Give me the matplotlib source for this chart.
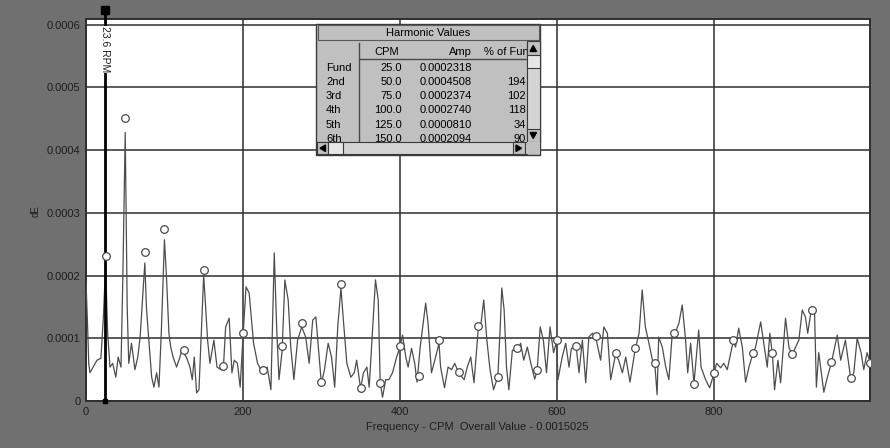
import matplotlib
matplotlib.use("Agg")
import matplotlib.pyplot as plt
from matplotlib.patches import Rectangle, Polygon

plt.rcParams['font.family'] = ['Liberation Sans', 'DejaVu Sans']

# --- spectrum (CPM vs dE) ---
spec_cpm = [0, 2, 3.5, 5, 9, 14, 19, 22, 25, 27.6, 30.6, 34, 38, 41, 44.6, 47, 50, 52.5, 54.5, 58,
            62.4, 66, 69, 72, 75, 77, 79.4, 83.7, 86.6, 90, 93, 96, 100, 102.5, 105.7, 108, 111,
            115.5, 119.7, 122.7, 125, 128, 132.5, 135.5, 138, 141, 144, 147, 150, 152.5, 155,
            158, 163, 167, 172, 175, 178, 182.5, 186, 189, 193, 196.5, 200, 204, 208, 213.6,
            218.7, 223, 225, 231, 235.7, 240, 243, 246, 250, 253.5, 257.7, 261, 265, 269.7, 275,
            280, 284.5, 289, 293, 296.5, 300, 304, 308.7, 313, 317, 321, 325, 328, 332.5, 337.6,
            342, 345, 350, 353.7, 358, 361, 365, 369, 372.5, 375, 378, 382, 386, 390.7, 396, 400,
            403.5, 407.6, 410.6, 415, 419, 422, 426, 433, 436, 440.4, 444.6, 450, 452, 457, 461.5,
            466, 470, 475, 482, 486, 490.4, 494.6, 500, 503, 507, 511, 515, 519.5, 525, 528, 530,
            533, 536, 539, 543.5, 550, 554, 558, 562.6, 567, 572, 575, 579, 583, 587, 591.5, 596,
            600, 601.6, 607, 611.5, 615.7, 618.7, 625, 628.4, 632.7, 637, 641, 645.5, 650, 656,
            660, 664.6, 668.8, 675, 679, 683.7, 688, 693.4, 700, 705, 709, 713, 717.6, 722, 725,
            728, 730, 734.6, 739, 743, 747, 750, 755.8, 760, 764.3, 767, 770.7, 775, 778, 781,
            784, 789.8, 795, 800, 803.8, 809, 813, 817.4, 825, 828, 832, 836.6, 840.8, 845, 850,
            853.5, 860, 864, 868.4, 871.7, 875, 877.7, 882, 885.4, 891.7, 896, 900, 904.5, 908.7,
            913, 917, 920, 925, 928.7, 931, 934, 940.5, 945, 950, 957.6, 962, 968, 975, 978.7,
            983, 988, 991.4, 995.6, 1000]
spec_amp = [0.000190, 0.000120, 0.000060, 0.000045, 0.000054, 0.000065, 0.000068, 0.000130,
            0.000215, 0.000108, 0.000054, 0.000060, 0.000038, 0.000070, 0.000054, 0.000200,
            0.000428, 0.000150, 0.000060, 0.000092, 0.000050, 0.000070, 0.000102, 0.000160,
            0.000220, 0.000150, 0.000108, 0.000038, 0.000022, 0.000045, 0.000022, 0.000110,
            0.000257, 0.000200, 0.000108, 0.000086, 0.000070, 0.000054, 0.000070, 0.000084,
            0.000075, 0.000070, 0.000054, 0.000034, 0.000070, 0.000013, 0.000018, 0.000110,
            0.000200, 0.000150, 0.000097, 0.000060, 0.000097, 0.000054, 0.000050, 0.000050,
            0.000118, 0.000132, 0.000045, 0.000065, 0.000060, 0.000022, 0.000100, 0.000182,
            0.000172, 0.000092, 0.000060, 0.000050, 0.000045, 0.000054, 0.000018, 0.000236,
            0.000118, 0.000034, 0.000080, 0.000193, 0.000161, 0.000086, 0.000034, 0.000097,
            0.000118, 0.000102, 0.000060, 0.000129, 0.000134, 0.000080, 0.000028, 0.000050,
            0.000092, 0.000070, 0.000022, 0.000120, 0.000180, 0.000130, 0.000060, 0.000038,
            0.000045, 0.000065, 0.000020, 0.000045, 0.000054, 0.000022, 0.000108, 0.000193,
            0.000161, 0.000030, 0.000006, 0.000034, 0.000034, 0.000045, 0.000070, 0.000085,
            0.000105, 0.000070, 0.000054, 0.000084, 0.000060, 0.000030, 0.000086, 0.000156,
            0.000124, 0.000045, 0.000065, 0.000092, 0.000054, 0.000021, 0.000054, 0.000050,
            0.000060, 0.000045, 0.000034, 0.000054, 0.000070, 0.000029, 0.000115, 0.000118,
            0.000161, 0.000097, 0.000050, 0.000018, 0.000039, 0.000118, 0.000180, 0.000145,
            0.000054, 0.000018, 0.000081, 0.000080, 0.000092, 0.000065, 0.000086, 0.000060,
            0.000035, 0.000048, 0.000118, 0.000097, 0.000045, 0.000118, 0.000077, 0.000095,
            0.000034, 0.000070, 0.000092, 0.000054, 0.000084, 0.000085, 0.000045, 0.000097,
            0.000029, 0.000102, 0.000108, 0.000100, 0.000065, 0.000118, 0.000108, 0.000034,
            0.000074, 0.000065, 0.000045, 0.000070, 0.000030, 0.000082, 0.000108, 0.000177,
            0.000118, 0.000092, 0.000065, 0.000060, 0.000010, 0.000102, 0.000086, 0.000054,
            0.000034, 0.000102, 0.000105, 0.000124, 0.000153, 0.000097, 0.000045, 0.000092,
            0.000028, 0.000070, 0.000113, 0.000054, 0.000034, 0.000021, 0.000042, 0.000060,
            0.000053, 0.000060, 0.000050, 0.000095, 0.000086, 0.000116, 0.000086, 0.000030,
            0.000054, 0.000075, 0.000086, 0.000126, 0.000092, 0.000054, 0.000108, 0.000074,
            0.000018, 0.000065, 0.000029, 0.000132, 0.000086, 0.000073, 0.000086, 0.000097,
            0.000145, 0.000134, 0.000108, 0.000150, 0.000140, 0.000022, 0.000077, 0.000014,
            0.000038, 0.000060, 0.000105, 0.000065, 0.000097, 0.000034, 0.000045, 0.000100,
            0.000077, 0.000050, 0.000077, 0.000060]

# --- harmonic markers ---
harm_cpm = [25, 50, 75, 100, 125, 150, 175, 200, 225, 250, 275, 300, 325, 350, 375, 400,
            425, 450, 475, 500, 525, 550, 575, 600, 625, 650, 675, 700, 725, 750, 775, 800,
            825, 850, 875, 900, 925, 950, 975, 1000]
harm_amp = [0.0002318, 0.0004508, 0.0002374, 0.0002740, 0.0000810, 0.0002094, 0.000055,
            0.000108, 0.000050, 0.000087, 0.000125, 0.000030, 0.000186, 0.000021, 0.000029,
            0.000087, 0.000040, 0.000097, 0.000047, 0.000120, 0.000039, 0.000084, 0.000050,
            0.000097, 0.000087, 0.000103, 0.000076, 0.000084, 0.000061, 0.000108, 0.000027,
            0.000044, 0.000097, 0.000077, 0.000076, 0.000075, 0.000145, 0.000062, 0.000036,
            0.000060]

# --- cursor and table ---
cursor_cpm = 23.6
cursor_label = "23.6 RPM"
tbl_rows = ["Fund", "2nd", "3rd", "4th", "5th", "6th"]
tbl_cpm = ["25.0", "50.0", "75.0", "100.0", "125.0", "150.0"]
tbl_amp = ["0.0002318", "0.0004508", "0.0002374", "0.0002740", "0.0000810", "0.0002094"]
tbl_pct = ["", "194", "102", "118", "34", "90"]

xticks = [0, 200, 400, 600, 800]
yticks = [0, 0.0001, 0.0002, 0.0003, 0.0004, 0.0005, 0.0006]
ytick_labels = ["0", "0.0001", "0.0002", "0.0003", "0.0004", "0.0005", "0.0006"]

W, H = 890, 448
BG = '#6f706f'
INK = '#1e1e1e'
GRIDC = '#2e2e2e'

fig = plt.figure(figsize=(W / 100, H / 100), dpi=100)
fig.patch.set_facecolor(BG)

# plot area in pixels
L, R, T, B = 86, 870.5, 19.5, 401
ax = fig.add_axes([L / W, 1 - B / H, (R - L) / W, (B - T) / H])
ax.set_facecolor('white')
ax.set_xlim(0, 1000)
ax.set_ylim(0, 0.0006 + 5 * 0.0001 / 62.7)
ax.set_xticks(xticks)
ax.set_yticks(yticks)
ax.set_yticklabels(ytick_labels)
ax.tick_params(length=0, labelsize=8, colors=INK, pad=4)
ax.grid(True, color=GRIDC, lw=1.1)
ax.set_axisbelow(True)
for s in ax.spines.values():
    s.set_color(GRIDC)
    s.set_linewidth(1.4)

ax.plot(spec_cpm, spec_amp, color='#4d4d4d', lw=0.9, zorder=3)

# cursor
ytop = 0.0006 + 14.5 * 0.0001 / 62.7
ax.plot([cursor_cpm, cursor_cpm], [0, ytop], color='black', lw=2, zorder=4, clip_on=False)
ax.plot([cursor_cpm], [ytop], marker='s', ms=5.5, color='black', zorder=5, clip_on=False)
ax.plot([cursor_cpm], [0], marker='s', ms=2.5, color='black', zorder=5, clip_on=False)
ax.text(cursor_cpm + 0.5, 0.000597, cursor_label, rotation=-90, ha='center', va='top',
        fontsize=7.5, color=INK, zorder=6,
        bbox=dict(facecolor='white', edgecolor='none', pad=0.5))

ax.plot(harm_cpm, harm_amp, ls='none', marker='o', ms=5.5, mfc='white',
        mec='#4a4a4a', mew=0.9, zorder=6)

fig.text(477 / W, 1 - 427 / H, "Frequency - CPM  Overall Value - 0.0015025",
         ha='center', va='center', fontsize=8, color=INK)
fig.text(36 / W, 1 - 211 / H, "dE", rotation=90, ha='center', va='center',
         fontsize=7, color=INK)

# --- "Harmonic Values" window, drawn in pixel coordinates ---
ov = fig.add_axes([0, 0, 1, 1], zorder=10)
ov.set_xlim(0, W)
ov.set_ylim(H, 0)
ov.axis('off')
ov.patch.set_alpha(0)

PANEL = '#c0c0c0'
ov.add_patch(Rectangle((316, 24), 224, 131, facecolor=PANEL, edgecolor='#3a3a3a', lw=1))
ov.add_patch(Rectangle((317.5, 25.5), 221, 15, facecolor=PANEL, edgecolor='#5a5a5a', lw=0.8))
ov.text(428, 33, "Harmonic Values", ha='center', va='center', fontsize=8, color='black')

clip = Rectangle((317, 41.5), 210, 98.5, transform=ov.transData)
ov.plot([359, 359], [43, 141.5], color='#4a4a4a', lw=1)
ov.plot([359, 527], [59.5, 59.5], color='#4a4a4a', lw=1)

header_y = 52
ov.text(387, header_y, "CPM", ha='center', va='center', fontsize=8, color='black')
ov.text(472, header_y, "Amp", ha='right', va='center', fontsize=8, color='black')
ov.text(484, header_y, "% of Fund", ha='left', va='center', fontsize=8, color='black',
        clip_path=clip, clip_on=True)

for i, name in enumerate(tbl_rows):
    yy = 67.7 + 14.2 * i
    for txt, xx, ha in [(name, 326, 'left'), (tbl_cpm[i], 402, 'right'),
                        (tbl_amp[i], 472, 'right'), (tbl_pct[i], 526, 'right')]:
        ov.text(xx, yy, txt, ha=ha, va='center', fontsize=8, color='black',
                clip_path=clip, clip_on=True)

# vertical scrollbar
ov.add_patch(Rectangle((527, 41.5), 12.5, 100.5, facecolor='#d4d4d4', edgecolor='#3a3a3a', lw=0.8, zorder=5))
ov.add_patch(Rectangle((527, 41.5), 12.5, 13.5, facecolor=PANEL, edgecolor='#3a3a3a', lw=0.8, zorder=6))
ov.add_patch(Rectangle((527, 55), 12.5, 13.5, facecolor='#e6e6e6', edgecolor='#3a3a3a', lw=0.8, zorder=6))
ov.add_patch(Rectangle((527, 129), 12.5, 13, facecolor=PANEL, edgecolor='#3a3a3a', lw=0.8, zorder=6))
ov.add_patch(Polygon([(530, 51.5), (536.5, 51.5), (533.25, 45.5)], color='black', zorder=7))
ov.add_patch(Polygon([(530, 132.5), (536.5, 132.5), (533.25, 138.5)], color='black', zorder=7))

# horizontal scrollbar
ov.add_patch(Rectangle((317, 142.5), 210, 11.5, facecolor='#d4d4d4', edgecolor='#3a3a3a', lw=0.8, zorder=5))
ov.add_patch(Rectangle((317, 142.5), 11, 11.5, facecolor=PANEL, edgecolor='#3a3a3a', lw=0.8, zorder=6))
ov.add_patch(Rectangle((328, 142.5), 15, 11.5, facecolor='#e6e6e6', edgecolor='#3a3a3a', lw=0.8, zorder=6))
ov.add_patch(Rectangle((513, 142.5), 12, 11.5, facecolor=PANEL, edgecolor='#3a3a3a', lw=0.8, zorder=6))
ov.add_patch(Rectangle((527, 142), 12.5, 12, facecolor=PANEL, edgecolor='none', zorder=6))
ov.add_patch(Polygon([(325.5, 145), (325.5, 151.5), (320, 148.25)], color='black', zorder=7))
ov.add_patch(Polygon([(516, 145), (516, 151.5), (521.5, 148.25)], color='black', zorder=7))

fig.savefig("out.png", dpi=100, facecolor=fig.get_facecolor())
